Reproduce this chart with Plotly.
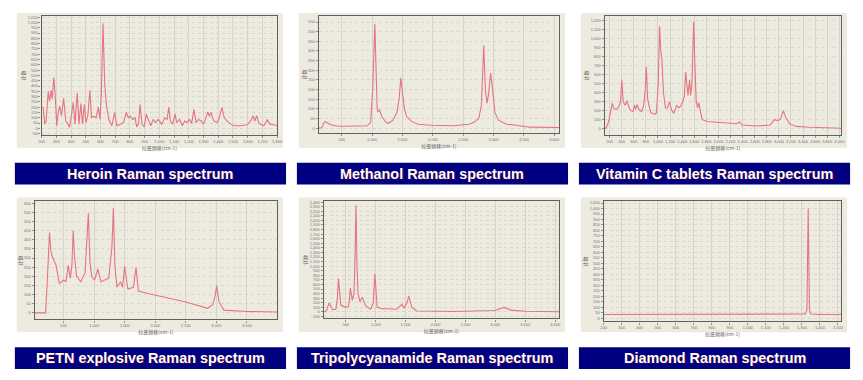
import plotly.graph_objects as go

W, H = 863, 380

# ---------------- data ----------------
titles = ["Heroin Raman spectrum", "Methanol Raman spectrum", "Vitamin C tablets Raman spectrum",
          "PETN explosive Raman spectrum", "Tripolycyanamide Raman spectrum", "Diamond Raman spectrum"]

heroin_x = [200, 211, 222, 231, 245, 254, 265, 272, 283, 292, 303, 314, 323, 335, 350, 364, 377, 389, 404, 415,
            427, 442, 454, 467, 478, 490, 501, 514, 528, 539, 552, 570, 586, 597, 606, 617, 629, 640, 656, 678,
            696, 712, 734, 757, 775, 790, 804, 819, 835, 846, 858, 869, 882, 898, 911, 925, 941, 958, 974, 992,
            1015, 1037, 1053, 1064, 1075, 1091, 1107, 1118, 1138, 1156, 1172, 1187, 1205, 1219, 1235, 1250, 1266,
            1284, 1300, 1313, 1329, 1340, 1351, 1369, 1392, 1407, 1425, 1441, 1459, 1486, 1508, 1553, 1598, 1621,
            1636, 1648, 1661, 1677, 1710, 1733, 1751, 1778, 1800]
heroin_y = [200, 195, 40, 70, 350, 260, 360, 275, 480, 320, 25, 165, 210, 120, 285, 70, 45, 10, 135, 245,
            40, 335, 40, 235, 40, 225, 55, 120, 360, 100, 115, 100, 200, 85, 335, 990, 415, 225, 85, 25,
            150, 25, 40, 55, 150, 100, 115, 85, 100, 15, 40, 225, 40, 15, 135, 80, 25, 85, 55, 85,
            40, 100, 85, 200, 70, 40, 135, 55, 85, 25, 70, 55, 85, 45, 180, 55, 85,
            70, 40, 85, 155, 115, 150, 70, 55, 100, 195, 100, 70, 40, 25, 25, 35, 70,
            120, 70, 120, 45, 25, 80, 40, 35, 25]

methanol_x = [120, 170, 200, 225, 260, 320, 400, 460, 600, 800, 920, 975, 1010, 1045, 1065, 1083, 1100, 1120,
              1160, 1230, 1270, 1340, 1407, 1445, 1472, 1495, 1531, 1570, 1650, 1758, 1970, 2340, 2510, 2595,
              2676, 2757, 2800, 2838, 2865, 2892, 2920, 2952, 2985, 3022, 3082, 3216, 3378, 3432, 3594, 4080]
methanol_y = [0, 2, 25, 34, 28, 18, 12, 10, 10, 10, 12, 30, 200, 540, 250, 100, 85, 95,
              60, 30, 25, 40, 80, 150, 260, 200, 100, 60, 35, 20, 15, 12, 15, 20,
              30, 50, 120, 430, 200, 130, 180, 285, 200, 80, 40, 20, 15, 12, 5, 3]

vitc_x = [118, 145, 184, 216, 244, 271, 309, 348, 380, 402, 424, 457, 490, 522, 555, 588, 610, 632, 654, 687,
          731, 763, 790, 807, 829, 856, 883, 916, 949, 976, 1004, 1026, 1037, 1047, 1064, 1091, 1124, 1157,
          1190, 1223, 1261, 1310, 1343, 1375, 1408, 1436, 1458, 1480, 1496, 1523, 1540, 1562, 1590, 1611,
          1633, 1655, 1677, 1699, 1732, 1814, 1978, 2197, 2306, 2350, 2388, 2635, 2854, 2925, 2991, 3034,
          3073, 3116, 3182, 3291, 3510, 4030]
vitc_y = [0, 10, 80, 200, 285, 220, 215, 240, 300, 545, 300, 260, 310, 230, 200, 190, 260, 215, 270, 210,
          190, 260, 430, 690, 330, 240, 180, 170, 160, 180, 500, 1140, 960, 850, 780, 400, 230, 230,
          300, 210, 170, 260, 230, 250, 300, 360, 630, 420, 370, 545, 370, 500, 1190, 700,
          300, 230, 290, 200, 100, 80, 70, 55, 55, 75, 40, 30, 40, 100, 90, 120,
          200, 120, 50, 25, 15, 5]

petn_x = [25, 120, 204, 235, 268, 290, 311, 376, 430, 500, 538, 575, 608, 635, 656, 680, 710, 780, 850, 904,
          930, 958, 1006, 1060, 1109, 1238, 1290, 1314, 1340, 1373, 1432, 1465, 1497, 1551, 1642, 1685, 1723,
          1900, 2208, 2500, 2855, 2940, 2980, 3005, 3043, 3124, 3500, 3995]
petn_y = [0, 0, 0, 200, 440, 340, 310, 260, 160, 180, 170, 260, 190, 260, 450, 300, 200, 170, 220, 545,
          280, 200, 180, 240, 170, 190, 360, 575, 250, 140, 170, 140, 255, 130, 140, 250, 120,
          105, 80, 60, 25, 45, 90, 150, 60, 15, 8, 5]

mel_x = [130, 180, 223, 279, 334, 360, 378, 400, 417, 500, 544, 560, 577, 610, 638, 655, 671, 688, 705, 738,
         776, 832, 915, 960, 987, 1025, 1108, 1197, 1274, 1357, 1440, 1473, 1530, 1551, 1606, 1689, 2325,
         2989, 3080, 3144, 3265, 3500, 4067]
mel_y = [0, 30, 200, 50, 60, 300, 730, 300, 150, 100, 120, 250, 520, 250, 420, 1200, 2330, 1000, 400, 220,
         320, 130, 60, 200, 830, 100, 70, 70, 60, 60, 170, 80, 220, 350, 100, 20, 10,
         30, 70, 100, 40, 15, 5]

diamond_x = [200, 600, 1000, 1300, 1320, 1328, 1332, 1335, 1338, 1342, 1350, 1400, 1518]
diamond_y = [33, 33, 33, 33, 38, 80, 600, 1000, 600, 80, 38, 33, 33]

series = [(heroin_x, heroin_y), (methanol_x, methanol_y), (vitc_x, vitc_y),
          (petn_x, petn_y), (mel_x, mel_y), (diamond_x, diamond_y)]

# axis settings: (xrange, xdtick, xtick0, yrange, ydtick, ytick0)
axes_cfg = [
    ([200, 1800], 100, 200, [-62, 1062], 50, -50),
    ([120, 4080], 500, 500, [-25, 582], 50, 0),
    ([118, 4030], 200, 200, [-70, 1255], 100, 0),
    ([25, 3995], 500, 500, [-36, 610], 50, 0),
    ([130, 4067], 500, 500, [-143, 2415], 100, -100),
    ([200, 1518], 100, 300, [-30, 1065], 50, 0),
]

# ---------------- layout geometry (pixels) ----------------
plot_px = [(39, 277, 14, 134), (319, 562, 14, 132), (608, 847, 14, 134),
           (32, 277, 201, 320), (324, 562, 201, 319), (607, 847, 201, 322)]
bg_px = [(14, 283, 11, 147), (299, 568, 11, 147), (584, 853, 11, 147),
         (14, 283, 197, 333), (299, 568, 197, 333), (584, 853, 197, 333)]
bar_px = [(12, 286, 162, 184), (297, 571, 162, 184), (582, 856, 162, 184),
          (12, 286, 348, 370), (297, 571, 348, 370), (582, 856, 348, 370)]


def px(x):
    return x / W


def py(y):
    return 1 - y / H


fig = go.Figure()
shapes = []
annotations = []
layout = {}

for i, ((xs, ys), cfg, p, b, bar, t) in enumerate(zip(series, axes_cfg, plot_px, bg_px, bar_px, titles)):
    n = "" if i == 0 else str(i + 1)
    xr, xd, x0, yr, yd, y0 = cfg
    fig.add_trace(go.Scatter(x=xs, y=ys, mode="lines", xaxis="x" + n, yaxis="y" + n,
                             line=dict(color="#E6737F", width=1.1), showlegend=False,
                             hoverinfo="skip"))
    common = dict(showline=True, linecolor="#606060", linewidth=1.2, mirror=True,
                  tickfont=dict(size=4, color="#707070", family="Liberation Sans"),
                  ticks="outside", ticklen=2, tickcolor="#909090", tickformat=",d",
                  tickangle=0, zeroline=False, fixedrange=True)
    layout["xaxis" + n] = dict(common, domain=[px(p[0]), px(p[1])], range=xr, dtick=xd, tick0=x0,
                               anchor="y" + n, gridcolor="#D6D4C8", gridwidth=0.8,
                               title=dict(text="拉曼频移(cm-1)", standoff=1,
                                          font=dict(size=5, color="#606060", family="Noto Sans CJK SC")))
    layout["yaxis" + n] = dict(common, domain=[py(p[3]), py(p[2])], range=yr, dtick=yd, tick0=y0,
                               anchor="x" + n, gridcolor="#DAD8CC", gridwidth=0.6, griddash="dot",
                               title=dict(text="计数", standoff=1,
                                          font=dict(size=5, color="#606060", family="Noto Sans CJK SC")))
    shapes.append(dict(type="rect", xref="paper", yref="paper", layer="below",
                       x0=px(b[0]), x1=px(b[1]), y0=py(b[3]), y1=py(b[2]),
                       fillcolor="#EDEBE0", line=dict(width=0)))
    shapes.append(dict(type="rect", xref="paper", yref="paper", layer="below",
                       x0=px(bar[0]), x1=px(bar[1]), y0=py(bar[3]), y1=py(bar[2]),
                       fillcolor="#000080", line=dict(width=0)))
    annotations.append(dict(xref="paper", yref="paper", x=px((bar[0] + bar[1]) / 2),
                            y=py((bar[2] + bar[3]) / 2), text="<b>" + t + "</b>", showarrow=False,
                            xanchor="center", yanchor="middle",
                            font=dict(size=14.4, color="white", family="Liberation Sans",
                                      shadow="1px 1px 0px #40003a")))

fig.update_layout(width=W, height=H, margin=dict(l=0, r=0, t=0, b=0),
                  paper_bgcolor="white", plot_bgcolor="#F7F6EE",
                  shapes=shapes, annotations=annotations, **layout)

fig.write_html("out.html", config={"displayModeBar": False},
               post_script="document.body.style.margin='0';document.body.style.overflow='hidden';")
